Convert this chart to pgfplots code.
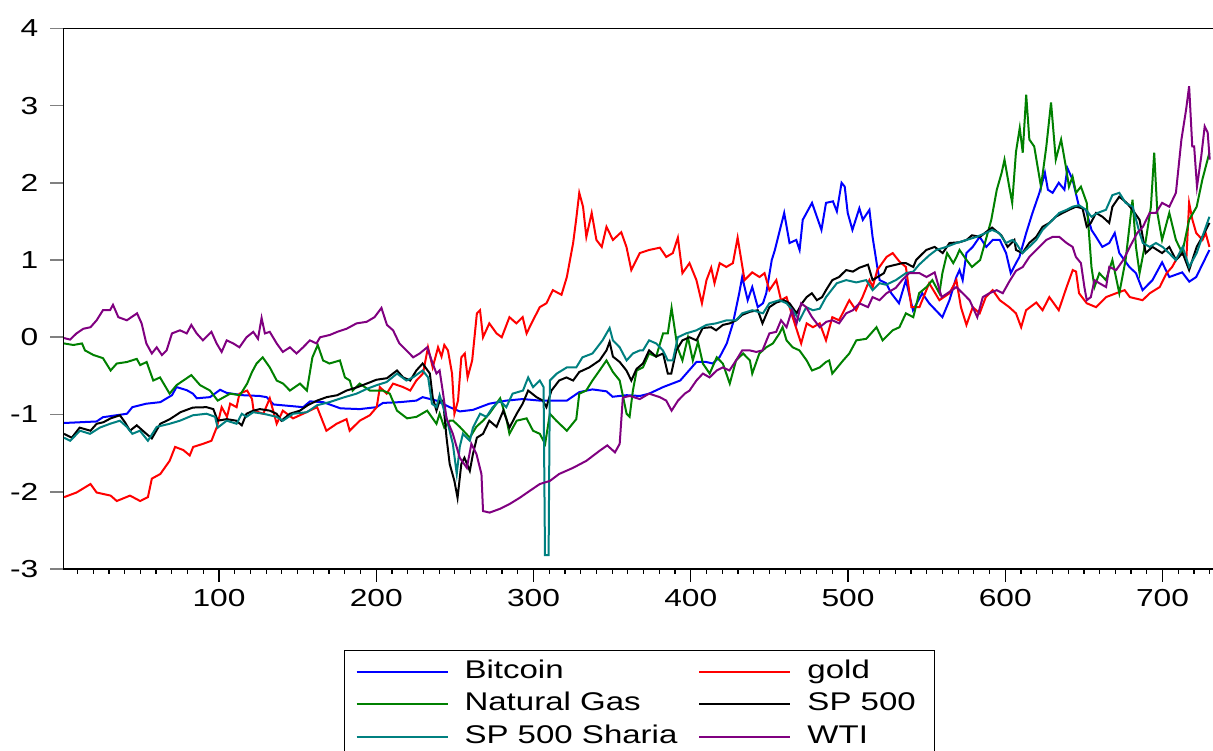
\documentclass[border=0pt]{standalone}
\usepackage{pgfplots}
\pgfplotsset{compat=1.18}
\usepackage{fontspec}
\setmainfont{Liberation Sans}
\newfontfamily\widefont[FakeStretch=1.29]{Liberation Sans}
\usetikzlibrary{calc}
\definecolor{cBTC}{RGB}{0,0,255}
\definecolor{cGold}{RGB}{255,0,0}
\definecolor{cGas}{RGB}{0,128,0}
\definecolor{cSP}{RGB}{0,0,0}
\definecolor{cSh}{RGB}{0,128,128}
\definecolor{cWTI}{RGB}{128,0,128}
\begin{document}
\begin{tikzpicture}
\begin{axis}[
  name=ax,
  scale only axis,
  width=576.35pt, height=270.35pt,
  xmin=1, xmax=734, ymin=-3, ymax=4,
  axis line style={line width=0.8pt},
  tick pos=left, tick align=outside,
  xtick={100,200,...,700},
  minor xtick={10,20,...,730},
  ytick={-3,-2,...,4},
  major tick length=6.5pt, minor tick length=2.5pt,
  xtick style={black, line width=0.6pt},
  ytick style={gray, line width=0.8pt},
  minor tick style={black, line width=0.6pt},
  ticklabel style={font=\widefont\fontsize{12.3}{14}\selectfont},
  yticklabel style={xshift=-2.5pt},
  /pgf/number format/assume math mode=true,
  /pgf/number format/1000 sep={},
  every axis plot/.append style={line width=1pt, no markers},
  legend columns=2,
  legend cell align=left,
  legend image code/.code={\draw[#1] (0pt,0pt) -- (45.5pt,0pt);},
  legend style={at={(0.5,-0.15)}, anchor=north, draw=black, line width=0.6pt,
    font=\widefont\fontsize{12.8}{14}\selectfont,
    nodes={inner xsep=4pt, inner ysep=0pt, text height=9.3pt, text depth=2.7pt},
    row sep=4.25pt, inner xsep=5.5pt, inner ysep=4.5pt,
    /tikz/every odd column/.append style={column sep=4pt},
    /tikz/every even column/.append style={column sep=6.5pt}},
]
\addplot[cBTC] coordinates {(1.5,-1.11)(22.2,-1.09)(26.2,-1.035)(41.5,-0.99)(44.9,-0.905)(53.8,-0.86)(62.7,-0.84)(70.1,-0.75)(73,-0.645)(79.5,-0.685)(83.4,-0.73)(85.9,-0.79)(94.3,-0.775)(100.7,-0.68)(104.9,-0.72)(115,-0.75)(125.8,-0.76)(130.3,-0.775)(134.7,-0.87)(153.5,-0.905)(157.9,-0.83)(166.3,-0.84)(177.2,-0.92)(189.5,-0.93)(200.1,-0.905)(204.3,-0.85)(215,-0.84)(225.5,-0.82)(229.5,-0.775)(238.3,-0.82)(246.7,-0.905)(253.1,-0.96)(261.5,-0.94)(271.9,-0.86)(282.7,-0.82)(293.1,-0.80)(304,-0.82)(321.2,-0.82)(329.1,-0.71)(337.5,-0.675)(346.4,-0.70)(350.3,-0.77)(359.2,-0.75)(367.6,-0.76)(373.5,-0.73)(382.4,-0.645)(393.3,-0.56)(403.6,-0.32)(409.8,-0.32)(414,-0.34)(418.4,-0.255)(422.9,-0.08)(426.8,0.18)(430.8,0.57)(432.7,0.78)(436.2,0.48)(439.1,0.65)(442.6,0.39)(445.9,0.44)(448,0.57)(451.5,1.0)(453.5,1.13)(459.4,1.61)(462.8,1.22)(467.1,1.26)(469.2,1.13)(471.2,1.52)(477.1,1.74)(483.1,1.39)(486,1.74)(490.4,1.76)(492.9,1.63)(495.9,2.0)(497.9,1.95)(499.8,1.61)(502.8,1.39)(507.2,1.67)(509.4,1.52)(513.6,1.65)(515.6,1.30)(518.6,0.91)(520.1,0.74)(524.2,0.70)(527.5,0.57)(532.4,0.44)(536.8,0.74)(541.3,0.35)(547.2,0.57)(551.6,0.44)(560,0.26)(564.5,0.48)(568.9,0.78)(570.9,0.87)(572.9,0.74)(575.3,1.09)(579.3,1.17)(583.7,1.30)(587.9,1.17)(592,1.26)(596.5,1.26)(600.5,1.09)(603.5,0.83)(606.8,0.96)(609,1.04)(613.3,1.35)(617.3,1.61)(621.7,1.87)(625.2,2.13)(627.1,1.91)(630.1,1.87)(634,2.0)(637.6,1.91)(639.5,2.19)(642.8,2.04)(646.9,1.69)(651.3,1.65)(654.8,1.39)(657.7,1.30)(661.7,1.17)(666.1,1.22)(669.6,1.35)(672.5,1.09)(678.9,0.91)(683.1,0.83)(687.3,0.61)(693.6,0.74)(699.7,0.97)(704.3,0.78)(712.5,0.84)(717,0.72)(721.4,0.78)(729.8,1.13)};
\addlegendentry{Bitcoin}
\addplot[cGold] coordinates {(1.5,-2.07)(9.4,-2.01)(18.3,-1.90)(22.2,-2.01)(31.1,-2.05)(35,-2.12)(43.4,-2.05)(49.9,-2.12)(54.8,-2.07)(57.3,-1.83)(62.7,-1.77)(68.6,-1.60)(72.1,-1.42)(77.3,-1.46)(81.4,-1.53)(83.6,-1.42)(89.8,-1.38)(95.2,-1.34)(98.7,-1.16)(101.7,-0.905)(105.1,-1.03)(107.1,-0.86)(111.2,-0.905)(113,-0.73)(117.9,-0.69)(121,-0.80)(122,-0.95)(128.2,-0.99)(132.3,-0.79)(136.7,-1.12)(140.6,-0.95)(147.1,-1.05)(153.5,-0.99)(162.4,-0.905)(168.3,-1.21)(174.8,-1.12)(181.1,-1.06)(183.1,-1.21)(189.5,-1.08)(195.9,-1.01)(200.3,-0.905)(202.3,-0.645)(206.6,-0.73)(210.7,-0.60)(217.1,-0.645)(221.6,-0.69)(225.5,-0.56)(229.7,-0.47)(232.9,-0.13)(235.9,-0.39)(239.3,-0.13)(241.5,-0.25)(243.3,-0.10)(245.6,-0.17)(248.2,-0.47)(249.7,-0.99)(252,-0.82)(254.1,-0.26)(256.3,-0.21)(258.1,-0.52)(261,-0.30)(264,0.31)(266,0.35)(267.9,0.0)(271.9,0.18)(276.5,0.05)(279.8,0.0)(284.7,0.26)(289.1,0.18)(293.1,0.26)(295.6,0.05)(299.7,0.22)(304,0.39)(308.2,0.44)(312.3,0.61)(317.8,0.55)(321.2,0.78)(325.2,1.22)(327.1,1.52)(329.1,1.87)(331.5,1.69)(333.6,1.30)(337,1.61)(340,1.26)(343.4,1.17)(346.4,1.43)(350.5,1.26)(355.8,1.36)(359.1,1.17)(362.2,0.87)(367.6,1.09)(373.5,1.13)(380.4,1.16)(384.4,1.04)(388.6,1.09)(391.8,1.29)(394.7,0.83)(399.2,0.96)(403.6,0.74)(407.1,0.44)(410,0.74)(413,0.9)(415.1,0.70)(418.4,0.96)(422.6,0.91)(426.8,0.96)(429.8,1.29)(434.2,0.74)(439.1,0.84)(443.7,0.78)(446.9,0.83)(450,0.61)(454.4,0.74)(457.4,0.48)(460.9,0.52)(464.8,0.26)(470.2,-0.08)(473.7,0.18)(477.7,0.13)(482,0.18)(486,-0.04)(490,0.26)(494.3,0.22)(500.8,0.48)(505.1,0.35)(509.2,0.52)(513.6,0.74)(515.7,0.65)(518.6,0.87)(524.5,1.04)(528.4,1.09)(532.7,0.98)(536.8,0.91)(540.3,0.39)(545.4,0.39)(551.6,0.70)(558.1,0.48)(564.5,0.57)(568.9,0.74)(571.8,0.39)(575.3,0.16)(579.3,0.39)(583.7,0.31)(587.6,0.52)(592,0.61)(596.5,0.48)(602.5,0.39)(606.8,0.31)(610.1,0.13)(613.2,0.35)(619.7,0.45)(623.7,0.35)(628,0.52)(634,0.35)(639,0.65)(642.9,0.87)(645,0.85)(646.9,0.57)(651.8,0.44)(657.7,0.39)(664.1,0.52)(670.5,0.57)(675.9,0.61)(679.2,0.52)(687.3,0.48)(691.9,0.57)(698.2,0.65)(702.6,0.83)(706.1,0.91)(711,1.09)(715.2,1.04)(716.9,1.74)(719,1.52)(721.4,1.35)(725.4,1.26)(727.4,1.35)(729.8,1.17)};
\addlegendentry{gold}
\addplot[cGas] coordinates {(1.5,-0.08)(7.4,-0.10)(12.9,-0.08)(14.8,-0.17)(20.2,-0.23)(26.2,-0.27)(31.1,-0.43)(35,-0.34)(41.5,-0.32)(47.7,-0.28)(49.9,-0.36)(54,-0.32)(58.2,-0.56)(62.5,-0.52)(68.6,-0.73)(73,-0.62)(82.4,-0.49)(88,-0.62)(94.3,-0.69)(99.2,-0.82)(107.1,-0.73)(113.3,-0.75)(117.9,-0.60)(121,-0.45)(123.9,-0.34)(127.8,-0.26)(132.3,-0.39)(136.7,-0.56)(140.8,-0.60)(145.1,-0.69)(151.5,-0.60)(155.9,-0.69)(159.4,-0.26)(162.8,-0.10)(166.2,-0.30)(170.2,-0.34)(176.9,-0.30)(180.1,-0.52)(183.2,-0.56)(185,-0.69)(189.5,-0.60)(195.9,-0.69)(204.3,-0.69)(208.6,-0.73)(213.2,-0.95)(219.6,-1.05)(225.6,-1.03)(232.4,-0.95)(238.3,-1.12)(240.3,-0.99)(243.3,-1.17)(246.8,-1.08)(248.9,-1.08)(253.1,-1.16)(259.5,-1.30)(263.6,-1.16)(267.9,-1.08)(271.9,-0.99)(278.8,-0.79)(282.7,-1.05)(284.7,-1.25)(289.3,-1.08)(295.6,-1.05)(299.7,-1.21)(304,-1.25)(307.4,-1.38)(310.4,-0.99)(314.5,-1.08)(321.2,-1.21)(327.2,-1.06)(329.1,-0.73)(333.5,-0.69)(337.5,-0.56)(342,-0.43)(346.4,-0.30)(350.5,-0.45)(354.8,-0.56)(359.2,-0.99)(361.1,-1.03)(363.2,-0.69)(365.6,-0.43)(369.6,-0.39)(373.5,-0.21)(378,-0.25)(382.4,0.05)(385.4,0.05)(387.8,0.38)(391.5,-0.13)(394.7,-0.30)(398.2,0.0)(401.3,-0.30)(404.6,-0.06)(407.7,-0.34)(412,-0.47)(416.5,-0.26)(420.4,-0.34)(424.8,-0.60)(428.8,-0.30)(433.3,-0.21)(437.6,-0.30)(439.1,-0.47)(443.6,-0.21)(448,-0.13)(452.2,-0.08)(456.4,0.05)(458.4,0.13)(460.9,-0.04)(464.8,-0.13)(469.1,-0.17)(473.7,-0.30)(477.1,-0.43)(482,-0.39)(486,-0.32)(488,-0.30)(490,-0.47)(496.9,-0.30)(500.8,-0.21)(505.3,-0.04)(511.6,-0.02)(518.1,0.13)(522,-0.04)(528.4,0.09)(532.7,0.13)(536.8,0.31)(541.5,0.26)(545.2,0.57)(549.9,0.65)(553.6,0.74)(558.1,0.57)(560,0.83)(563,1.09)(566.9,0.96)(569,1.04)(570.9,1.13)(575.4,1.0)(578.8,0.91)(584,1.0)(587.6,1.26)(591.1,1.52)(594.6,1.91)(597.7,2.13)(599.5,2.30)(602.5,1.95)(604.4,1.74)(606.8,2.4)(609.2,2.71)(611.1,2.39)(613.3,3.14)(615.3,2.56)(618.4,2.47)(622.7,1.95)(626.1,2.47)(629.1,3.04)(632.1,2.30)(635.5,2.56)(638.5,2.21)(640.5,1.95)(642.8,2.08)(645,1.87)(648.1,1.95)(651.8,1.74)(654.8,0.91)(656.7,0.65)(659.8,0.83)(664,0.74)(668.1,1.0)(672.5,0.57)(676.5,1.0)(680.9,1.78)(683.1,1.17)(685.4,0.83)(689.4,1.26)(692.6,1.69)(694.7,2.39)(696.7,1.61)(699.7,1.26)(704.3,1.61)(708.5,1.26)(712.5,1.09)(716.9,1.52)(721.7,1.69)(725.3,2.04)(729.8,2.39)};
\addlegendentry{Natural Gas}
\addplot[cSP] coordinates {(1.5,-1.25)(6.4,-1.30)(11.4,-1.17)(18.3,-1.21)(22.2,-1.12)(26.5,-1.10)(31.1,-1.05)(37,-1.01)(40.2,-1.10)(43.4,-1.21)(47.7,-1.14)(53.8,-1.25)(57.3,-1.31)(62.7,-1.12)(68.8,-1.06)(75.5,-0.97)(83.4,-0.91)(92.1,-0.905)(96.4,-0.93)(99.2,-1.08)(104.9,-1.06)(111,-1.08)(114.5,-1.14)(117.5,-0.99)(121.9,-0.95)(126,-0.93)(132.3,-0.95)(136.6,-0.99)(139.7,-1.08)(145.1,-0.99)(151.5,-0.95)(156.4,-0.88)(162.4,-0.82)(168.5,-0.775)(175.2,-0.75)(181.1,-0.69)(187.5,-0.65)(193.9,-0.60)(200.1,-0.55)(206.8,-0.53)(213.2,-0.43)(217.1,-0.52)(221.6,-0.56)(225.5,-0.43)(229.5,-0.34)(234.1,-0.47)(235.9,-0.78)(238.3,-0.95)(240.3,-0.82)(242.5,-0.82)(244.7,-1.30)(246.7,-1.64)(249.7,-1.86)(251.7,-2.08)(254.1,-1.64)(256.1,-1.56)(259.5,-1.73)(261.5,-1.51)(264,-1.30)(267.9,-1.25)(271.9,-1.08)(276.5,-1.16)(280.8,-0.95)(284.7,-1.17)(289.3,-0.99)(293.1,-0.86)(296.6,-0.69)(301.9,-0.775)(305.9,-0.82)(308.2,-0.905)(311.4,-0.69)(316.3,-0.56)(320.9,-0.52)(325.2,-0.56)(329.1,-0.45)(335.5,-0.39)(342,-0.30)(346.4,-0.17)(348.4,-0.06)(350.5,-0.25)(354.8,-0.32)(359.1,-0.43)(362.2,-0.56)(365.5,-0.41)(369.6,-0.34)(373.5,-0.17)(378,-0.25)(382.4,-0.21)(385.4,-0.47)(387.6,-0.47)(390.8,-0.17)(394.7,-0.04)(399.2,0.0)(403.6,-0.04)(407.6,0.12)(413,0.13)(416.1,0.09)(420.4,0.16)(424.8,0.18)(428.9,0.22)(432.7,0.29)(437.6,0.33)(442.6,0.35)(445.6,0.18)(450,0.39)(454.4,0.45)(459.2,0.48)(462.8,0.44)(467.3,0.31)(470.7,0.44)(473.7,0.52)(477,0.57)(480.2,0.48)(483.5,0.52)(486,0.61)(490,0.74)(494.3,0.78)(498.8,0.87)(503.1,0.85)(507.2,0.90)(512.7,0.94)(515.6,0.74)(522.8,0.83)(524.5,0.91)(534.5,0.96)(536.8,0.96)(541.5,0.91)(543.3,1.0)(549.7,1.13)(555.1,1.17)(560.2,1.09)(564.5,1.22)(570.9,1.23)(575.4,1.26)(578.8,1.32)(584,1.30)(587.6,1.36)(591.6,1.42)(597.5,1.32)(601.5,1.17)(605.8,1.26)(606.8,1.13)(610.9,1.09)(615.2,1.22)(619.7,1.30)(623.7,1.43)(628,1.48)(632.1,1.56)(636.5,1.61)(640.5,1.65)(644.9,1.69)(649.1,1.67)(651.8,1.43)(654.4,1.48)(657.7,1.61)(661.8,1.56)(666.1,1.48)(668.1,1.69)(672.5,1.82)(677.2,1.74)(680.9,1.65)(685.4,1.52)(689.3,1.09)(693.6,1.17)(699.7,1.09)(704.3,1.17)(708.5,1.0)(712.8,1.09)(716.9,0.87)(721.7,1.17)(725.3,1.30)(729.8,1.48)};
\addlegendentry{SP 500}
\addplot[cSh] coordinates {(1.5,-1.30)(5.4,-1.34)(11.6,-1.21)(18,-1.25)(24.2,-1.17)(30.7,-1.12)(37,-1.08)(41.4,-1.16)(44.9,-1.25)(49.7,-1.21)(54.8,-1.34)(60.4,-1.16)(68.6,-1.12)(75.2,-1.08)(83.4,-1.01)(92.1,-0.99)(97.5,-1.03)(99.2,-1.17)(104.9,-1.08)(111.2,-1.12)(114.5,-0.99)(117.5,-1.03)(121.8,-0.97)(128.2,-0.99)(136.7,-1.03)(140.6,-1.08)(147.2,-0.99)(155.9,-0.97)(162.4,-0.88)(170.2,-0.84)(179.1,-0.78)(187.5,-0.73)(193.8,-0.67)(200.3,-0.62)(206.6,-0.58)(213.2,-0.47)(219.2,-0.56)(223.3,-0.52)(229.5,-0.43)(233,-0.52)(235.4,-0.86)(238.3,-0.905)(240.3,-0.75)(244.7,-1.05)(248.7,-1.38)(251.2,-1.77)(253.1,-1.42)(255.1,-1.25)(259.5,-1.34)(261.5,-1.17)(266,-0.99)(270.1,-1.03)(273.9,-0.91)(278.5,-0.82)(282.7,-0.905)(286.7,-0.73)(293.3,-0.69)(296.6,-0.52)(299.7,-0.645)(304,-0.56)(306.4,-0.645)(307.3,-2.82)(309.6,-2.82)(310.4,-0.56)(314.8,-0.47)(321.2,-0.39)(327.2,-0.39)(331.1,-0.26)(337.5,-0.21)(343.9,-0.04)(348.4,0.12)(350.5,-0.04)(354.8,-0.13)(359.2,-0.30)(363.2,-0.21)(367.6,-0.17)(369.6,-0.17)(373.5,-0.04)(378,-0.08)(382.3,-0.17)(385.4,-0.30)(388.6,-0.30)(391.8,0.0)(397,0.05)(403.6,0.09)(410,0.16)(416.1,0.18)(422.9,0.22)(428.9,0.22)(432.7,0.31)(439.1,0.35)(445.9,0.31)(450,0.44)(456.4,0.48)(460.9,0.44)(464.8,0.35)(469.2,0.22)(473.4,0.39)(477.7,0.35)(482,0.37)(486,0.52)(492.9,0.70)(498.8,0.74)(505.3,0.71)(511.6,0.74)(515.6,0.61)(520,0.70)(524.2,0.68)(530.4,0.74)(536.8,0.83)(541.5,0.85)(545.2,0.94)(551.6,1.06)(556.1,1.13)(562.5,1.17)(568.9,1.22)(575.4,1.26)(581.7,1.30)(587.6,1.35)(591.6,1.39)(596.1,1.35)(600.5,1.22)(604.5,1.26)(606.8,1.22)(610.9,1.09)(615.2,1.17)(619.7,1.26)(623.7,1.39)(630.1,1.52)(634.3,1.61)(639,1.65)(642.8,1.69)(646.9,1.71)(651.3,1.65)(654.8,1.56)(658.7,1.61)(664,1.65)(668.1,1.84)(672.5,1.87)(676.5,1.74)(681,1.69)(685.4,1.35)(687.5,1.22)(691.8,1.17)(695.8,1.22)(700,1.17)(704.1,1.09)(708.5,1.0)(712.8,1.17)(716.9,0.91)(721.7,1.09)(725.3,1.30)(729.8,1.56)};
\addlegendentry{SP 500 Sharia}
\addplot[cWTI] coordinates {(1.5,-0.01)(5.3,-0.03)(9.4,0.05)(13.7,0.11)(18.3,0.13)(22.2,0.22)(26.2,0.35)(30.7,0.35)(32.6,0.42)(36,0.26)(41.4,0.22)(47.9,0.31)(50.8,0.18)(53.8,-0.08)(57.3,-0.21)(60.4,-0.13)(63.7,-0.23)(66.7,-0.17)(70.1,0.05)(75.2,0.09)(79.5,0.05)(82.4,0.16)(85.8,0.05)(89.8,-0.04)(95.2,0.07)(98.5,-0.08)(101.7,-0.19)(104.9,-0.04)(109.1,-0.08)(113,-0.13)(117.5,0.0)(121.8,0.07)(124.8,-0.02)(127.1,0.25)(129.2,0.05)(132.3,0.07)(136.7,-0.08)(140.6,-0.19)(145.1,-0.13)(149.3,-0.21)(153.5,-0.13)(157.8,-0.04)(162,-0.08)(164.3,0.0)(170.5,0.03)(175.2,0.07)(181.1,0.11)(187.5,0.18)(193.9,0.2)(198.9,0.26)(203.3,0.38)(206.8,0.16)(210.7,0.09)(214.7,-0.08)(219.2,-0.17)(223.5,-0.26)(227.6,-0.21)(232.4,-0.13)(235.2,-0.30)(238.3,-0.47)(240.3,-0.43)(242.3,-0.70)(244.7,-1.05)(248.7,-1.25)(253.1,-1.56)(257.6,-1.69)(260.5,-1.38)(263.7,-1.51)(266.9,-1.77)(267.9,-2.25)(272.1,-2.27)(278.8,-2.22)(284.7,-2.16)(291.1,-2.08)(297.5,-1.99)(304,-1.90)(310.4,-1.86)(316.3,-1.77)(325.2,-1.69)(333.6,-1.60)(342,-1.47)(346.9,-1.40)(351.8,-1.49)(354.8,-1.38)(356.8,-0.78)(361.2,-0.76)(367.6,-0.80)(373.5,-0.73)(380.3,-0.775)(384.4,-0.82)(387.8,-0.95)(391.9,-0.82)(396.2,-0.73)(399.2,-0.69)(403.6,-0.56)(407.7,-0.47)(412,-0.52)(416.5,-0.43)(420.4,-0.39)(424.6,-0.43)(428.8,-0.30)(432.7,-0.17)(437.6,-0.17)(441.7,-0.19)(445.6,-0.17)(450,0.05)(454.3,0.07)(457.4,0.22)(460.9,0.13)(464.3,0.35)(467.3,0.18)(470.2,0.44)(473.4,0.39)(477.1,0.26)(482,0.13)(486.2,0.20)(490,0.22)(494.3,0.18)(498.8,0.31)(503.1,0.35)(507.2,0.44)(512.7,0.39)(515.6,0.52)(520,0.48)(524.5,0.57)(530.4,0.64)(534.4,0.74)(538.8,0.83)(545.4,0.83)(549.9,0.78)(555.1,0.84)(559.5,0.52)(563.3,0.57)(568.9,0.65)(572.9,0.57)(577.3,0.48)(582.2,0.26)(585.7,0.52)(589.9,0.57)(594.6,0.61)(598.4,0.57)(602.5,0.72)(606.8,0.86)(611.1,0.91)(615.3,1.04)(621.7,1.17)(626.1,1.26)(630.1,1.30)(634.3,1.30)(639,1.22)(642.8,1.17)(644.9,1.04)(648.1,0.96)(650.3,0.65)(651.8,0.48)(654.4,0.52)(656.7,0.74)(659.8,0.70)(664.1,0.65)(666.1,0.91)(670.5,0.87)(675,1.0)(679.2,1.17)(683.9,1.35)(687.5,1.43)(691.8,1.61)(695.8,1.61)(699.7,1.74)(704.3,1.69)(708.5,1.87)(712,2.56)(715,2.95)(716.9,3.25)(718.9,2.47)(720.1,2.47)(721.9,1.95)(724.6,2.34)(726.8,2.73)(728.7,2.65)(730,2.30)};
\addlegendentry{WTI}
\end{axis}
\pgfresetboundingbox
\useasboundingbox ($(ax.south west)+(-31.65pt,-91pt)$) rectangle ($(ax.north east)+(-1.5pt,14.15pt)$);
\end{tikzpicture}
\end{document}
